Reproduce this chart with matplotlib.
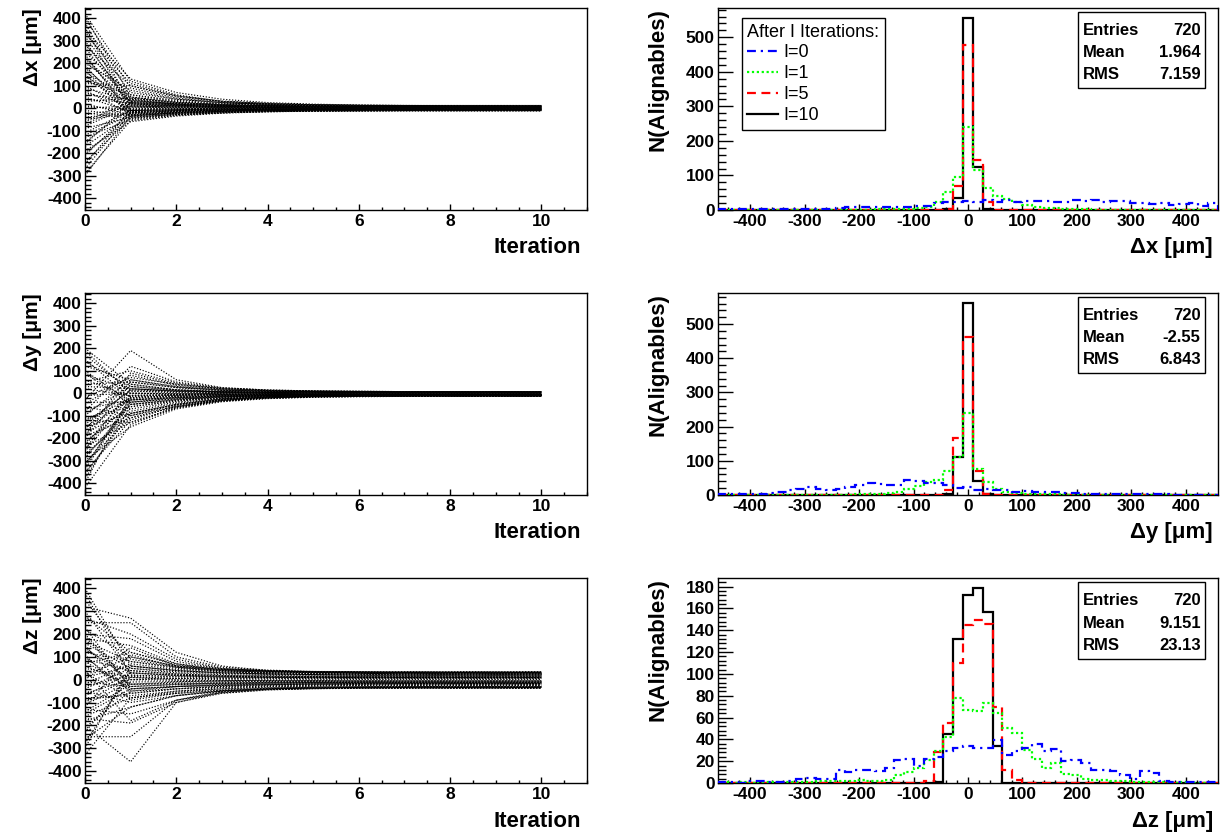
import numpy as np
import matplotlib
matplotlib.use('Agg')
import matplotlib.pyplot as plt
from matplotlib.ticker import MultipleLocator
from matplotlib.lines import Line2D
from matplotlib.patches import Rectangle

plt.rcParams['font.family'] = ['Liberation Sans', 'DejaVu Sans']
plt.rcParams['font.weight'] = 'bold'
plt.rcParams['axes.unicode_minus'] = False

# ---------------- data ----------------
iterations = [0, 1, 2, 3, 4, 5, 6, 7, 8, 9, 10]

dx_traj = [
    [420, 120, 60, 30, 18, 12, 8, 6, 5, 4, 4],
    [400, 90, 45, 25, 15, 10, 8, 6, 5, 5, 4],
    [380, 20, 10, 8, 6, 5, 5, 4, 4, 4, 4],
    [350, 130, 70, 40, 25, 18, 14, 12, 11, 10, 10],
    [320, 40, 15, 5, 2, 0, -1, -2, -2, -2, -2],
    [300, 10, 5, 3, 2, 2, 1, 1, 1, 1, 1],
    [280, 100, 50, 30, 20, 15, 12, 10, 9, 9, 9],
    [250, 60, 35, 22, 15, 12, 10, 9, 8, 8, 8],
    [230, -10, -8, -6, -5, -5, -5, -5, -5, -5, -5],
    [210, 30, 20, 12, 8, 6, 5, 5, 4, 4, 4],
    [200, 80, 40, 25, 18, 14, 12, 11, 10, 10, 10],
    [180, 5, 0, -2, -3, -3, -3, -3, -3, -3, -3],
    [160, 45, 25, 15, 10, 8, 7, 6, 6, 6, 6],
    [150, -20, -12, -8, -6, -5, -5, -5, -4, -4, -4],
    [130, 20, 12, 8, 6, 5, 5, 5, 5, 5, 5],
    [120, 60, 30, 18, 12, 10, 8, 7, 7, 7, 7],
    [100, -5, -3, -2, -1, -1, -1, -1, -1, -1, -1],
    [90, 35, 20, 14, 10, 8, 7, 6, 6, 6, 6],
    [70, 15, 8, 5, 3, 2, 2, 2, 2, 2, 2],
    [50, -15, -10, -8, -7, -6, -6, -6, -6, -6, -6],
    [40, 25, 15, 10, 8, 7, 7, 7, 7, 7, 7],
    [20, -30, -20, -14, -11, -10, -9, -9, -9, -9, -9],
    [0, 10, 6, 4, 3, 3, 3, 3, 3, 3, 3],
    [-10, -35, -22, -15, -12, -10, -10, -9, -9, -9, -9],
    [-30, 5, 2, 0, 0, 0, 0, 0, 0, 0, 0],
    [-50, -25, -15, -10, -8, -7, -7, -7, -7, -7, -7],
    [-70, 20, 10, 5, 3, 2, 2, 2, 2, 2, 2],
    [-90, -40, -28, -20, -15, -13, -12, -11, -11, -11, -11],
    [-110, -10, -6, -4, -3, -3, -3, -3, -3, -3, -3],
    [-130, -50, -30, -20, -15, -12, -11, -10, -10, -10, -10],
    [-150, 0, -2, -3, -3, -3, -3, -3, -3, -3, -3],
    [-170, -30, -18, -12, -9, -8, -8, -8, -8, -8, -8],
    [-190, -60, -35, -22, -16, -13, -12, -11, -11, -11, -11],
    [-210, -15, -10, -7, -6, -6, -6, -6, -6, -6, -6],
    [-240, -45, -25, -16, -12, -10, -10, -9, -9, -9, -9],
    [-270, -20, -12, -9, -8, -7, -7, -7, -7, -7, -7],
    [-300, -35, -20, -13, -10, -9, -9, -9, -9, -9, -9],
    [270, 15, 10, 8, 7, 7, 6, 6, 6, 6, 6],
    [340, 70, 40, 25, 18, 15, 13, 12, 12, 12, 12],
    [60, 40, 22, 14, 11, 9, 8, 8, 8, 8, 8],
    [-60, 30, 18, 12, 9, 8, 7, 7, 7, 7, 7],
    [190, -25, -15, -10, -8, -7, -6, -6, -6, -6, -6],
    [110, 100, 55, 32, 22, 16, 13, 12, 11, 11, 11],
    [-20, -45, -30, -20, -15, -13, -12, -12, -12, -12, -12],
    [410, 50, 25, 14, 9, 7, 6, 5, 5, 5, 5],
    [360, -15, -8, -4, -2, -1, -1, -1, -1, -1, -1],
    [330, 110, 55, 30, 20, 15, 13, 12, 12, 12, 12],
    [290, 25, 15, 10, 8, 7, 6, 6, 6, 6, 6],
    [240, -30, -18, -12, -9, -8, -7, -7, -7, -7, -7],
    [220, 50, 28, 18, 13, 11, 10, 9, 9, 9, 9],
    [170, -35, -22, -15, -11, -9, -8, -8, -8, -8, -8],
    [140, 35, 18, 10, 6, 4, 3, 3, 3, 3, 3],
    [80, -25, -15, -10, -8, -7, -7, -7, -7, -7, -7],
    [30, 45, 25, 16, 12, 10, 9, 9, 9, 9, 9],
    [-40, -20, -12, -8, -6, -5, -5, -5, -5, -5, -5],
    [-80, 10, 5, 2, 1, 0, 0, 0, 0, 0, 0],
    [-120, -30, -20, -14, -11, -10, -9, -9, -9, -9, -9],
    [-160, 25, 14, 8, 5, 4, 4, 4, 4, 4, 4],
    [-200, -40, -25, -17, -13, -11, -10, -10, -10, -10, -10],
    [-250, -5, -4, -3, -3, -3, -3, -3, -3, -3, -3],
    [-290, -55, -32, -20, -14, -12, -11, -10, -10, -10, -10],
    [10, -10, -6, -4, -3, -3, -3, -3, -3, -3, -3],
]

dy_traj = [
    [200, 40, 15, 8, 5, 4, 3, 3, 3, 3, 3],
    [170, 10, 5, 3, 2, 2, 2, 2, 2, 2, 2],
    [150, -20, -10, -6, -5, -4, -4, -4, -4, -4, -4],
    [120, 60, 30, 15, 10, 8, 7, 6, 6, 6, 6],
    [100, -40, -20, -12, -9, -8, -7, -7, -7, -7, -7],
    [80, 20, 10, 6, 4, 4, 3, 3, 3, 3, 3],
    [50, 100, 45, 22, 14, 10, 8, 7, 7, 7, 7],
    [20, -10, -6, -4, -3, -3, -3, -3, -3, -3, -3],
    [-30, 190, 60, 25, 14, 10, 8, 7, 7, 7, 7],
    [-10, 0, -2, -3, -3, -3, -3, -3, -3, -3, -3],
    [-50, 80, 35, 18, 11, 8, 7, 6, 6, 6, 6],
    [-70, -30, -18, -12, -9, -8, -8, -8, -8, -8, -8],
    [-90, 30, 12, 6, 3, 2, 2, 2, 2, 2, 2],
    [-110, -60, -35, -22, -15, -12, -11, -10, -10, -10, -10],
    [-130, 10, 2, -2, -4, -5, -5, -5, -5, -5, -5],
    [-150, -90, -50, -28, -18, -14, -12, -11, -11, -11, -11],
    [-170, -20, -12, -9, -7, -6, -6, -6, -6, -6, -6],
    [-190, -110, -60, -32, -20, -15, -13, -12, -12, -12, -12],
    [-200, 40, 15, 5, 0, -2, -3, -3, -3, -3, -3],
    [-220, -50, -30, -18, -13, -11, -10, -10, -10, -10, -10],
    [-240, -130, -65, -35, -22, -16, -14, -13, -13, -13, -13],
    [-260, -10, -8, -6, -5, -5, -5, -5, -5, -5, -5],
    [-280, -80, -45, -26, -18, -14, -12, -11, -11, -11, -11],
    [-300, -150, -70, -38, -24, -18, -15, -14, -13, -13, -13],
    [-320, -40, -25, -16, -12, -10, -9, -9, -9, -9, -9],
    [-350, -120, -55, -30, -20, -15, -13, -12, -12, -12, -12],
    [-380, -60, -35, -20, -14, -11, -10, -10, -10, -10, -10],
    [-420, -140, -62, -34, -22, -17, -15, -14, -14, -14, -14],
    [-160, 50, 25, 12, 8, 6, 5, 5, 5, 5, 5],
    [-60, -100, -50, -25, -15, -11, -10, -9, -9, -9, -9],
    [30, 20, 10, 6, 4, 3, 3, 3, 3, 3, 3],
    [-120, -25, -15, -10, -8, -7, -7, -7, -7, -7, -7],
    [-230, 0, -4, -6, -7, -7, -7, -7, -7, -7, -7],
    [-80, 120, 50, 24, 14, 10, 8, 7, 7, 7, 7],
    [-180, -70, -40, -24, -16, -13, -12, -11, -11, -11, -11],
    [60, -15, -8, -5, -3, -3, -3, -3, -3, -3, -3],
    [-270, -100, -58, -32, -20, -15, -13, -12, -12, -12, -12],
    [-20, 70, 40, 20, 12, 9, 8, 7, 7, 7, 7],
    [-140, 15, 8, 4, 2, 1, 1, 1, 1, 1, 1],
    [-330, -20, -14, -10, -8, -7, -7, -7, -7, -7, -7],
    [190, 0, -2, -3, -4, -4, -4, -4, -4, -4, -4],
    [140, 30, 15, 8, 5, 4, 3, 3, 3, 3, 3],
    [90, -50, -28, -16, -11, -9, -8, -8, -8, -8, -8],
    [40, 50, 25, 13, 8, 6, 5, 5, 5, 5, 5],
    [-40, -40, -25, -16, -11, -9, -8, -8, -8, -8, -8],
    [-100, 60, 28, 14, 8, 6, 5, 5, 5, 5, 5],
    [-150, -30, -20, -13, -10, -9, -8, -8, -8, -8, -8],
    [-210, -90, -52, -30, -19, -14, -12, -11, -11, -11, -11],
    [-250, 20, 8, 2, -1, -2, -3, -3, -3, -3, -3],
    [-290, -50, -32, -20, -14, -11, -10, -10, -10, -10, -10],
    [-310, -110, -60, -33, -21, -16, -14, -13, -13, -13, -13],
    [-340, -30, -20, -13, -10, -9, -8, -8, -8, -8, -8],
    [-360, -90, -50, -28, -18, -14, -12, -12, -12, -12, -12],
    [-400, -10, -8, -6, -5, -5, -5, -5, -5, -5, -5],
    [-190, 90, 40, 20, 12, 9, 8, 7, 7, 7, 7],
    [-120, -130, -65, -35, -22, -16, -14, -13, -13, -13, -13],
]

dz_traj = [
    [400, 60, 40, 30, 25, 22, 20, 20, 20, 20, 20],
    [320, 270, 120, 60, 40, 32, 28, 26, 25, 25, 25],
    [300, 30, 20, 15, 12, 10, 10, 10, 10, 10, 10],
    [250, 250, 100, 55, 42, 36, 33, 32, 31, 31, 31],
    [220, 100, 60, 45, 38, 35, 33, 32, 32, 32, 32],
    [200, -20, -15, -12, -10, -10, -10, -10, -10, -10, -10],
    [180, 150, 70, 40, 30, 26, 24, 23, 23, 23, 23],
    [160, 50, 30, 22, 18, 16, 15, 15, 15, 15, 15],
    [140, 0, 5, 7, 8, 8, 8, 8, 8, 8, 8],
    [120, 80, 50, 38, 32, 30, 28, 28, 28, 28, 28],
    [100, -50, -30, -20, -15, -13, -12, -12, -12, -12, -12],
    [90, 40, 25, 18, 15, 14, 13, 13, 13, 13, 13],
    [70, 120, 65, 45, 38, 35, 34, 33, 33, 33, 33],
    [50, 10, 6, 4, 3, 3, 3, 3, 3, 3, 3],
    [30, -80, -50, -35, -28, -25, -24, -23, -23, -23, -23],
    [10, 60, 40, 30, 25, 23, 22, 22, 22, 22, 22],
    [-10, -30, -20, -15, -12, -11, -10, -10, -10, -10, -10],
    [-30, 20, 12, 8, 6, 5, 5, 5, 5, 5, 5],
    [-50, -100, -70, -50, -40, -35, -33, -32, -32, -32, -32],
    [-70, 30, 20, 15, 12, 11, 10, 10, 10, 10, 10],
    [-90, -60, -40, -30, -25, -22, -21, -20, -20, -20, -20],
    [-110, -10, -8, -6, -5, -5, -5, -5, -5, -5, -5],
    [-130, -150, -90, -55, -42, -37, -35, -34, -34, -34, -34],
    [-150, -40, -30, -24, -20, -18, -17, -17, -17, -17, -17],
    [-170, -190, -100, -60, -45, -39, -37, -36, -36, -36, -36],
    [-200, -360, -100, -55, -40, -35, -33, -32, -32, -32, -32],
    [-250, -250, -90, -50, -38, -33, -31, -30, -30, -30, -30],
    [-330, -80, -55, -40, -32, -28, -26, -25, -25, -25, -25],
    [-230, 10, 0, -5, -8, -9, -10, -10, -10, -10, -10],
    [350, 90, 55, 40, 34, 31, 30, 29, 29, 29, 29],
    [60, -20, -10, -5, -2, -1, 0, 0, 0, 0, 0],
    [-20, 70, 45, 35, 30, 28, 27, 27, 27, 27, 27],
    [110, -90, -60, -45, -38, -35, -34, -33, -33, -33, -33],
    [270, 200, 90, 50, 38, 33, 31, 30, 30, 30, 30],
    [-60, 0, -3, -5, -6, -6, -6, -6, -6, -6, -6],
    [-180, -120, -70, -48, -40, -36, -35, -34, -34, -34, -34],
    [150, -60, -40, -28, -22, -19, -18, -17, -17, -17, -17],
    [0, 140, 60, 40, 32, 29, 28, 27, 27, 27, 27],
    [-280, 40, 25, 18, 15, 14, 13, 13, 13, 13, 13],
    [190, -30, -22, -17, -14, -12, -11, -11, -11, -11, -11],
    [40, -180, -90, -58, -44, -39, -37, -36, -36, -36, -36],
    [-120, 110, 55, 35, 27, 23, 21, 20, 20, 20, 20],
    [380, 20, 15, 12, 10, 10, 10, 10, 10, 10, 10],
    [280, 120, 70, 48, 40, 36, 35, 35, 35, 35, 35],
    [230, -40, -30, -24, -20, -18, -17, -17, -17, -17, -17],
    [170, 80, 55, 42, 36, 33, 32, 31, 31, 31, 31],
    [130, 30, 18, 12, 10, 9, 8, 8, 8, 8, 8],
    [80, -40, -30, -25, -22, -20, -19, -19, -19, -19, -19],
    [20, 100, 60, 45, 38, 35, 34, 34, 34, 34, 34],
    [-40, 50, 35, 27, 23, 21, 20, 20, 20, 20, 20],
    [-80, -70, -50, -40, -35, -32, -31, -30, -30, -30, -30],
    [-100, 15, 5, 0, -3, -4, -5, -5, -5, -5, -5],
    [-140, -20, -18, -16, -15, -14, -14, -14, -14, -14, -14],
    [-160, -80, -60, -48, -42, -39, -38, -38, -38, -38, -38],
    [-210, -50, -40, -33, -29, -27, -26, -26, -26, -26, -26],
    [-260, -120, -70, -50, -42, -38, -36, -36, -36, -36, -36],
    [-300, 60, 40, 30, 25, 22, 21, 21, 21, 21, 21],
    [200, 180, 80, 48, 38, 34, 33, 32, 32, 32, 32],
]

# histogram binning: 51 bins of 18 um from -459 to 459
hist_lo, hist_hi, n_bins = -459, 459, 51

dx_I0 = [2, 2, 3, 2, 3, 2, 3, 3, 3, 4, 3, 4, 5, 8, 10, 9, 10, 10, 8, 10,
         12, 12, 20, 22, 24, 26, 24, 29, 24, 30, 24, 26, 27, 25, 24, 22, 29, 26, 29, 24,
         26, 26, 19, 19, 16, 19, 14, 16, 19, 12, 19]
dx_I1 = [0, 0, 0, 0, 0, 0, 0, 0, 0, 0, 0, 0, 0, 1, 1, 1, 2, 2, 3, 4,
         6, 10, 22, 52, 96, 240, 115, 65, 40, 32, 22, 14, 10, 7, 5, 4, 3, 2, 1, 1,
         1, 1, 1, 0, 0, 0, 0, 0, 0, 0, 0]
dx_I5 = [0, 0, 0, 0, 0, 0, 0, 0, 0, 0, 0, 0, 0, 0, 0, 0, 0, 0, 0, 0,
         0, 0, 0, 2, 69, 478, 146, 24, 1, 0, 0, 0, 0, 0, 0, 0, 0, 0, 0, 0,
         0, 0, 0, 0, 0, 0, 0, 0, 0, 0, 0]
dx_I10 = [0, 0, 0, 0, 0, 0, 0, 0, 0, 0, 0, 0, 0, 0, 0, 0, 0, 0, 0, 0,
          0, 0, 0, 2, 34, 557, 125, 2, 0, 0, 0, 0, 0, 0, 0, 0, 0, 0, 0, 0,
          0, 0, 0, 0, 0, 0, 0, 0, 0, 0, 0]

dy_I0 = [2, 2, 3, 3, 4, 5, 8, 14, 18, 22, 18, 16, 18, 22, 30, 36, 33, 28, 30, 45,
         42, 34, 36, 28, 20, 22, 16, 17, 15, 16, 10, 12, 10, 9, 8, 6, 5, 4, 4, 4,
         3, 2, 2, 2, 2, 2, 1, 1, 1, 1, 1]
dy_I1 = [0, 0, 0, 0, 0, 0, 0, 0, 0, 0, 0, 0, 0, 1, 2, 2, 3, 5, 10, 19,
         25, 38, 45, 70, 112, 240, 76, 39, 19, 10, 6, 4, 3, 2, 2, 1, 1, 0, 0, 0,
         0, 0, 0, 0, 0, 0, 0, 0, 0, 0, 0]
dy_I5 = [0, 0, 0, 0, 0, 0, 0, 0, 0, 0, 0, 0, 0, 0, 0, 0, 0, 0, 0, 0,
         0, 0, 0, 15, 167, 462, 70, 3, 0, 0, 0, 0, 0, 0, 0, 0, 0, 0, 0, 0,
         0, 0, 0, 0, 0, 0, 0, 0, 0, 0, 0]
dy_I10 = [0, 0, 0, 0, 0, 0, 0, 0, 0, 0, 0, 0, 0, 0, 0, 0, 0, 0, 0, 0,
          0, 0, 0, 2, 112, 563, 41, 2, 0, 0, 0, 0, 0, 0, 0, 0, 0, 0, 0, 0,
          0, 0, 0, 0, 0, 0, 0, 0, 0, 0, 0]

dz_I0 = [1, 1, 0, 2, 2, 1, 1, 2, 4, 5, 4, 4, 12, 10, 12, 12, 11, 14, 21, 22,
         16, 22, 24, 29, 32, 34, 32, 32, 39, 26, 29, 32, 36, 29, 31, 20, 21, 18, 12, 12,
         11, 7, 4, 11, 9, 2, 1, 1, 1, 1, 1]
dz_I1 = [1, 0, 1, 0, 1, 1, 1, 1, 1, 1, 2, 2, 2, 2, 3, 2, 2, 3, 7, 10,
         14, 21, 29, 42, 78, 67, 66, 73, 64, 50, 46, 30, 22, 14, 18, 8, 7, 4, 3, 3,
         2, 2, 1, 1, 1, 1, 0, 1, 0, 0, 0]
dz_I5 = [0, 0, 0, 0, 0, 0, 0, 0, 0, 0, 0, 0, 0, 0, 0, 0, 0, 0, 0, 0,
         0, 2, 28, 55, 110, 145, 149, 146, 70, 12, 3, 0, 0, 0, 0, 0, 0, 0, 0, 0,
         0, 0, 0, 0, 0, 0, 0, 0, 0, 0, 0]
dz_I10 = [0, 0, 0, 0, 0, 0, 0, 0, 0, 0, 0, 0, 0, 0, 0, 0, 0, 0, 0, 0,
          0, 0, 1, 45, 132, 172, 179, 157, 34, 0, 0, 0, 0, 0, 0, 0, 0, 0, 0, 0,
          0, 0, 0, 0, 0, 0, 0, 0, 0, 0, 0]

coord_labels = ['Δx [μm]', 'Δy [μm]', 'Δz [μm]']
legend_labels = ['I=0', 'I=1', 'I=5', 'I=10']
legend_title = 'After I Iterations:'
entries = [720, 720, 720]
means = ['1.964', '-2.55', '9.151']
rmss = ['7.159', '6.843', '23.13']

# ---------------- figure ----------------
W, H = 1220, 832
fig = plt.figure(figsize=(W / 100, H / 100), dpi=100)

row_px = [(8, 210), (293, 495), (578, 783)]
left_px = (85, 587)
right_px = (718, 1218)


def add_ax(xr, yr):
    return fig.add_axes([xr[0] / W, 1 - yr[1] / H, (xr[1] - xr[0]) / W, (yr[1] - yr[0]) / H])


def style(ax, xmaj, xmin, ymaj, ymin, ylen, xlen):
    ax.xaxis.set_major_locator(MultipleLocator(xmaj))
    ax.xaxis.set_minor_locator(MultipleLocator(xmin))
    ax.yaxis.set_major_locator(MultipleLocator(ymaj))
    ax.yaxis.set_minor_locator(MultipleLocator(ymin))
    ax.tick_params(which='both', direction='in', top=False, right=False,
                   labelsize=12.5, width=1, color='black')
    ax.tick_params(axis='y', which='major', length=ylen, pad=2.5)
    ax.tick_params(axis='y', which='minor', length=ylen / 2)
    ax.tick_params(axis='x', which='major', length=xlen, pad=3)
    ax.tick_params(axis='x', which='minor', length=xlen / 2)
    for s in ax.spines.values():
        s.set_linewidth(1.0)
        s.set_color('black')


dot_style = (0, (1, 1.5))
hist_styles = [
    ('#0000ff', (0, (4, 2.2, 1, 2.2))),
    ('#00ff00', (0, (1, 1.2))),
    ('#ff0000', (0, (4, 2.5))),
    ('#000000', '-'),
]

trajs = [dx_traj, dy_traj, dz_traj]
hists = [[dx_I0, dx_I1, dx_I5, dx_I10],
         [dy_I0, dy_I1, dy_I5, dy_I10],
         [dz_I0, dz_I1, dz_I5, dz_I10]]
edges = np.linspace(hist_lo, hist_hi, n_bins + 1)

for r in range(3):
    # ---- left: convergence of alignables ----
    ax = add_ax(left_px, row_px[r])
    for t in trajs[r]:
        ax.plot(iterations, t, color='black', lw=0.85, ls=dot_style)
    ax.set_xlim(0, 11)
    ax.set_ylim(-453, 446)
    style(ax, 2, 0.5, 100, 20, 8, 4.4)
    ax.set_xlabel('Iteration', fontsize=16, fontweight='bold', loc='right')
    ax.xaxis.set_label_coords(0.988, -0.135)
    ax.set_ylabel(coord_labels[r], fontsize=15, fontweight='bold', loc='top')
    ax.yaxis.set_label_coords(-0.085, 1.0)

    # ---- right: histograms ----
    ax2 = add_ax(right_px, row_px[r])
    vals = hists[r]
    for i in [3, 2, 1, 0]:
        c, ls = hist_styles[i]
        ax2.stairs(vals[i], edges, color=c, lw=1.6, ls=ls, zorder=3 + (3 - i))
    ax2.set_xlim(hist_lo, hist_hi)
    ymax = max(max(v) for v in vals) * 1.05
    ax2.set_ylim(0, ymax)
    if ymax > 300:
        style(ax2, 100, 20, 100, 20, 10.8, 4.4)
    else:
        style(ax2, 100, 20, 20, 4, 10.8, 4.4)
    ax2.set_xlabel(coord_labels[r], fontsize=16, fontweight='bold', loc='right')
    ax2.xaxis.set_label_coords(0.99, -0.135)
    ax2.set_ylabel('N(Alignables)', fontsize=16, fontweight='bold', loc='top')
    ax2.yaxis.set_label_coords(-0.098, 1.0)

    # stat box
    ax2.add_patch(Rectangle((0.719, 0.605), 0.255, 0.375, transform=ax2.transAxes,
                            facecolor='white', edgecolor='black', lw=1.0, zorder=10))
    rows_y = [0.89, 0.78, 0.67]
    names = ['Entries', 'Mean', 'RMS']
    values = [str(entries[r]), means[r], rmss[r]]
    for yy, n, v in zip(rows_y, names, values):
        ax2.text(0.729, yy, n, transform=ax2.transAxes, fontsize=12, fontweight='bold',
                 ha='left', va='center', zorder=11)
        ax2.text(0.965, yy, v, transform=ax2.transAxes, fontsize=12, fontweight='bold',
                 ha='right', va='center', zorder=11)

    if r == 0:
        handles = [Line2D([0], [0], color=c, lw=1.6, ls=ls) for c, ls in hist_styles]
        leg = ax2.legend(handles, legend_labels, title=legend_title,
                         loc='upper left', bbox_to_anchor=(0.048, 0.95),
                         borderaxespad=0, prop={'size': 13, 'weight': 'normal'},
                         title_fontproperties={'size': 13, 'weight': 'normal'},
                         alignment='left', fancybox=False, frameon=True,
                         edgecolor='black', framealpha=1, handlelength=1.7,
                         handletextpad=0.3, labelspacing=0.22, borderpad=0.3)
        leg.get_frame().set_linewidth(1.0)
        leg.set_zorder(12)

fig.savefig('out.png', dpi=100)
